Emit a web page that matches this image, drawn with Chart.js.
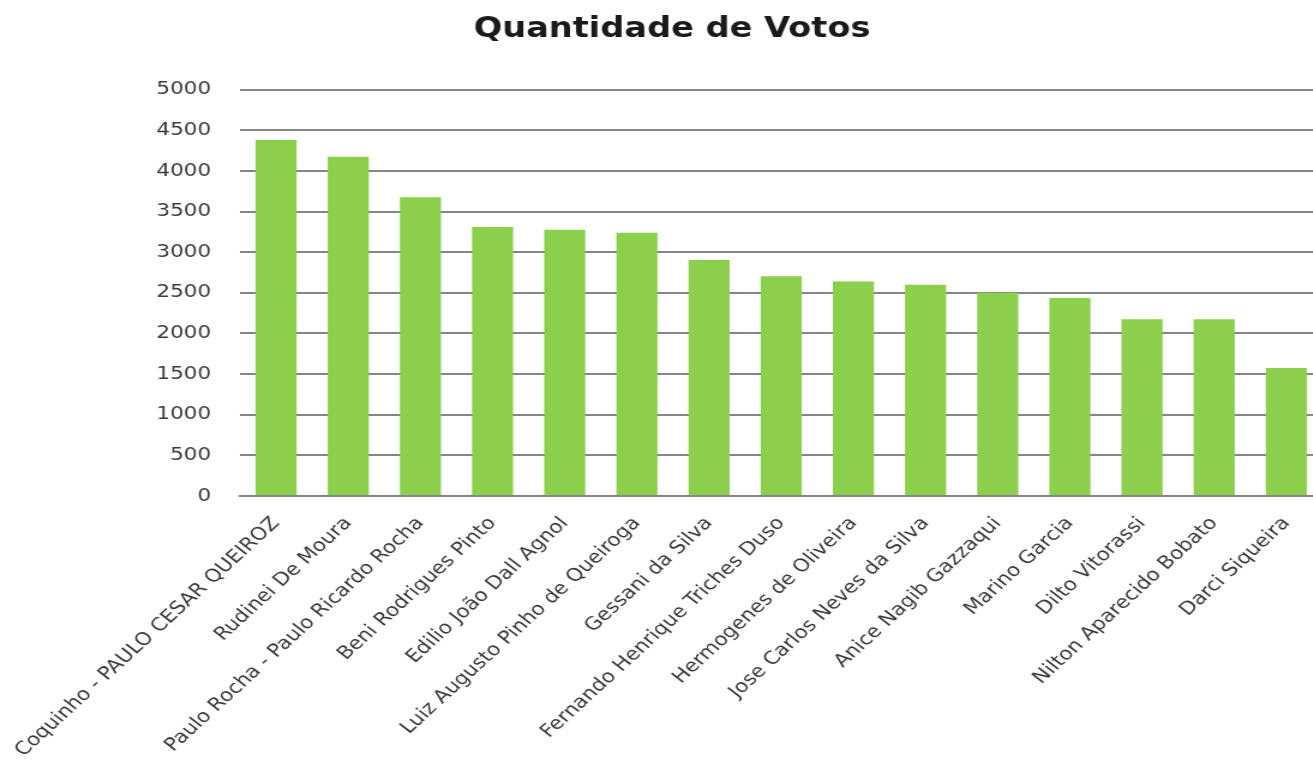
<!DOCTYPE html>
<html>
<head>
<meta charset="utf-8">
<script src="https://cdn.jsdelivr.net/npm/chart.js@4/dist/chart.umd.min.js"></script>
<style>
  html, body { margin: 0; padding: 0; background: #fff; overflow: hidden; }
  /* the chart is drawn narrow and widened, the way the sheet export looked */
  #wrap { width: 1120px; height: 760px; transform: scaleX(1.2); transform-origin: 0 0; }
</style>
</head>
<body>
<div id="wrap"><canvas id="votos" width="1120" height="760"></canvas></div>
<script>
  const candidatos = [
    'Coquinho - PAULO CESAR QUEIROZ',
    'Rudinei De Moura',
    'Paulo Rocha - Paulo Ricardo Rocha',
    'Beni Rodrigues Pinto',
    'Edilio João Dall Agnol',
    'Luiz Augusto Pinho de Queiroga',
    'Gessani da Silva',
    'Fernando Henrique Triches Duso',
    'Hermogenes de Oliveira',
    'Jose Carlos Neves da Silva',
    'Anice Nagib Gazzaqui',
    'Marino Garcia',
    'Dilto Vitorassi',
    'Nilton Aparecido Bobato',
    'Darci Siqueira'
  ];
  const votos = [4380, 4175, 3675, 3310, 3275, 3240, 2905, 2705, 2640, 2600, 2500, 2435, 2175, 2175, 1575];
  const yMax = 5000;
  const yStep = 500;

  const font = "'DejaVu Sans', Verdana, sans-serif";

  new Chart(document.getElementById('votos'), {
    type: 'bar',
    data: {
      labels: candidatos,
      datasets: [{
        label: 'Quantidade de Votos',
        data: votos,
        backgroundColor: '#8ccf4d',
        borderWidth: 0,
        barPercentage: 0.57,
        categoryPercentage: 1
      }]
    },
    options: {
      responsive: false,
      animation: false,
      layout: { padding: { left: 18, right: 18, top: 13, bottom: 0 } },
      plugins: {
        legend: { display: false },
        tooltip: { enabled: false },
        title: {
          display: true,
          text: 'Quantidade de Votos',
          color: '#1a1a1a',
          font: { family: font, size: 28, weight: 'bold' },
          padding: { top: 0, bottom: 43 }
        }
      },
      scales: {
        x: {
          grid: { display: false, drawTicks: false },
          border: { display: true, color: '#858585', width: 2 },
          ticks: {
            autoSkip: false,
            minRotation: 47.5,
            maxRotation: 47.5,
            padding: 17,
            color: '#3a3a3a',
            font: { family: font, size: 18 }
          },
          // long rotated names may run off the left edge, as in the sheet
          afterFit: s => { s.height = 264; s.paddingLeft = 0; s.paddingRight = 0; }
        },
        y: {
          min: 0,
          max: yMax,
          grid: { color: '#858585', lineWidth: 2, drawTicks: false },
          border: { display: false },
          ticks: {
            stepSize: yStep,
            padding: 24,
            color: '#3a3a3a',
            font: { family: font, size: 18 },
            callback: v => String(v)
          },
          afterFit: s => { s.width = 182; }
        }
      }
    }
  });
</script>
</body>
</html>
